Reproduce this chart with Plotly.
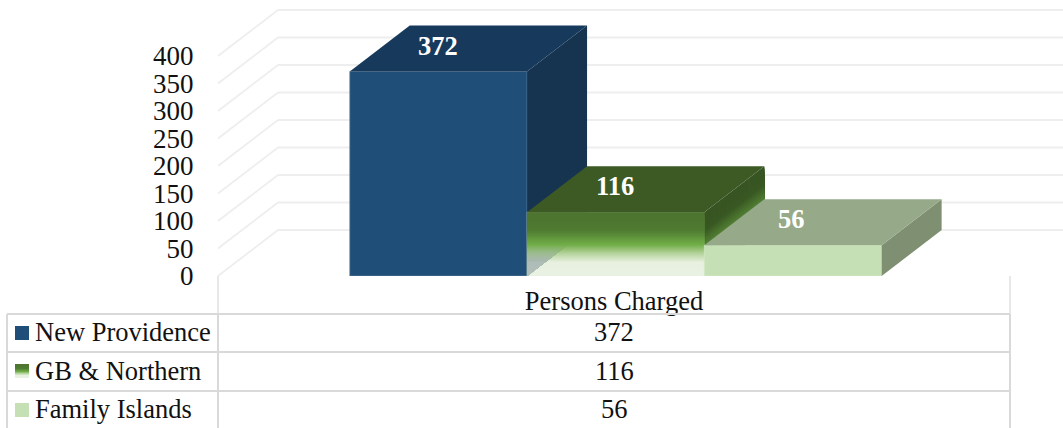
import plotly.graph_objects as go

# ---- data ----
category = "Persons Charged"
series_names = ["New Providence", "GB & Northern", "Family Islands"]
series_values = [372, 116, 56]
y_ticks = [0, 50, 100, 150, 200, 250, 300, 350, 400]

# ---- styles and layout ----
W, H = 1063, 428
FONT = "Liberation Serif"
FS = 26.5
PX_L, PX_R = 218, 1010      # category slot in pixels
PX_Y0 = 276                 # pixel of value 0
PX_PER_UNIT = 0.55
DEPTH_PX_X, DEPTH_PX_Y = 60, 46
SLOT = PX_R - PX_L
x_max = (W - PX_L) / SLOT - 0.5
y_max = PX_Y0 / PX_PER_UNIT
dx = DEPTH_PX_X / SLOT
dv = DEPTH_PX_Y / PX_PER_UNIT
bar_w = 177.3 / SLOT
BAR_SHIFT = 1.7 / SLOT
LABEL_SHIFT = -1.2 / SLOT
GRID = "#eeeeee"
RULE = "#d9d9d9"

front = ["#1f4e79", None, "#c5e0b4"]
top = ["#173a5c", "#3d5a25", "#96aa8a"]
side = ["#16344f", None, "#7f8f72"]
edge = ["#6f8ba6", "#9fb58f", "#d5e8c8"]
green_stops = [(0.0, (78, 118, 48)), (0.12, (78, 118, 48)), (0.28, (80, 124, 50)),
               (0.5, (112, 173, 71)), (0.64, (181, 211, 156)), (0.78, (232, 240, 224)),
               (1.0, (233, 241, 227))]


def mix(f):
    for (a, ca), (b, cb) in zip(green_stops, green_stops[1:]):
        if f <= b:
            t = (f - a) / (b - a)
            return tuple(ca[i] + (cb[i] - ca[i]) * t for i in range(3))
    return green_stops[-1][1]


def rgb(c, k=1.0):
    return "rgb(%d,%d,%d)" % tuple(round(v * k) for v in c)


def px(x):
    return x / W


def py(y):
    return 1 - y / H


def poly(xs, ys, color, ax):
    return go.Scatter(x=xs + xs[:1], y=ys + ys[:1], mode="lines", fill="toself", fillcolor=color,
                      line=dict(width=0, color=color), xaxis=ax[0], yaxis=ax[1],
                      hoverinfo="skip", showlegend=False)


fig = go.Figure()
AXES = [("x", "y"), ("x2", "y2"), ("x3", "y3")]
lefts = [BAR_SHIFT - 1.5 * bar_w + i * bar_w for i in range(3)]

for i, (name, v) in enumerate(zip(series_names, series_values)):
    ax = AXES[i]
    l, r = lefts[i], lefts[i] + bar_w
    fig.add_trace(go.Bar(x=[0], y=[v], name=name, width=bar_w, offset=l, xaxis=ax[0], yaxis=ax[1],
                         marker=dict(color=front[i] or rgb(green_stops[0][1]),
                                     line=dict(color=edge[i], width=0.7)),
                         showlegend=False, hoverinfo="name+y"))
    # right side face
    if i == 1:
        n = 64
        for k in range(n):
            f = k / n
            h = v * (1 - f)
            fig.add_trace(poly([r, r + dx, r + dx, r], [h, h + dv, dv, 0], rgb(mix(f), 0.72), ax))
    else:
        fig.add_trace(poly([r, r + dx, r + dx, r], [v, v + dv, dv, 0], side[i], ax))
    # top face
    fig.add_trace(poly([l, l + dx, r + dx, r], [v, v + dv, v + dv, v], top[i], ax))
    # gradient front face of the middle bar, plus the blue side seen through it
    if i == 1:
        n = 64
        for k in range(n):
            f = k / n
            h = v * (1 - f)
            fig.add_trace(poly([l, r, r, l], [h, h, 0, 0], rgb(mix(f)), ax))
        blue = (22, 52, 79)
        for k in range(n // 2, n):
            f = k / n
            h = v * (1 - f)
            a = min(0.27, max(0.0, (f - 0.5) / 0.25 * 0.27))
            c = tuple(mix(f)[j] * (1 - a) + blue[j] * a for j in range(3))
            fig.add_trace(poly([l, l + dx * h / dv, l], [h, h, 0], rgb(c), ax))

# ---- back grid, table rules and legend keys ----
shapes = []
for t in y_ticks:
    shapes.append(dict(type="line", layer="below", xref="x", yref="y", x0=-0.5, y0=t, x1=-0.5 + dx, y1=t + dv,
                       line=dict(color=GRID, width=1.8)))
    shapes.append(dict(type="line", layer="below", xref="x", yref="y", x0=-0.5 + dx, y0=t + dv, x1=x_max, y1=t + dv,
                       line=dict(color=GRID, width=1.8)))


def rule(x0, y0, x1, y1, width=2):
    shapes.append(dict(type="line", xref="paper", yref="paper", x0=px(x0), y0=py(y0), x1=px(x1), y1=py(y1),
                       line=dict(color=RULE, width=width)))


ROWS = [314, 352, 391, 428]
rule(PX_L, PX_Y0, PX_L, ROWS[0], 1.2)
rule(PX_R, PX_Y0, PX_R, ROWS[0], 1.2)
for yy in ROWS[:3]:
    rule(7, yy, PX_R, yy)
rule(7, ROWS[0], 7, H)
rule(PX_L, ROWS[0], PX_L, H)
rule(PX_R, ROWS[0], PX_R, H)

KEY_L, KEY_R = 15, 29
KEY_Y = [326, 364, 403]
for i in (0, 2):
    shapes.append(dict(type="rect", xref="paper", yref="paper", x0=px(KEY_L), x1=px(KEY_R),
                       y0=py(KEY_Y[i]), y1=py(KEY_Y[i] + 14), line=dict(width=0), fillcolor=front[i]))
for k in range(14):
    shapes.append(dict(type="rect", xref="paper", yref="paper", x0=px(KEY_L), x1=px(KEY_R),
                       y0=py(KEY_Y[1] + k), y1=py(KEY_Y[1] + 14), line=dict(width=0),
                       fillcolor=rgb(mix(k / 14))))

# ---- text ----
ann = []
for i, (name, v) in enumerate(zip(series_names, series_values)):
    ann.append(dict(x=lefts[i] + bar_w / 2 + (LABEL_SHIFT if i else 0), y=v + dv / 2 + 5, xref="x", yref="y",
                    text="<b>%d</b>" % v, showarrow=False, font=dict(family=FONT, size=FS, color="white")))
    row_mid = (ROWS[i] + ROWS[i + 1]) / 2 - 1
    ann.append(dict(x=px(33), y=py(row_mid), xref="paper", yref="paper", xanchor="left", yanchor="middle",
                    text=name, showarrow=False, font=dict(family=FONT, size=FS, color="#111111")))
    ann.append(dict(x=0, y=py(row_mid), xref="x", yref="paper", yanchor="middle",
                    text=str(v), showarrow=False, font=dict(family=FONT, size=FS, color="#111111")))

domain_x = [PX_L / W, 1]
domain_y = [1 - PX_Y0 / H, 1]
hidden_x = dict(domain=domain_x, range=[-0.5, x_max], visible=False, overlaying="x", fixedrange=True)
hidden_y = dict(domain=domain_y, range=[0, y_max], visible=False, overlaying="y", fixedrange=True)

fig.update_layout(
    width=W, height=H, margin=dict(l=0, r=0, t=0, b=0, pad=0, autoexpand=False), autosize=False,
    paper_bgcolor="white", plot_bgcolor="rgba(0,0,0,0)", showlegend=False,
    shapes=shapes, annotations=ann,
    font=dict(family=FONT, size=FS, color="#111111"),
    xaxis=dict(domain=domain_x, range=[-0.5, x_max], tickvals=[0], ticktext=[category],
               ticks="outside", ticklen=1, tickcolor="rgba(0,0,0,0)", showgrid=False, zeroline=False,
               showline=False, fixedrange=True, tickfont=dict(family=FONT, size=FS, color="#111111")),
    yaxis=dict(domain=domain_y, range=[0, y_max], tickvals=y_ticks,
               ticks="outside", ticklen=18, tickcolor="rgba(0,0,0,0)", showgrid=False, zeroline=False,
               showline=False, fixedrange=True, tickfont=dict(family=FONT, size=27, color="#111111")),
    xaxis2=hidden_x, yaxis2=hidden_y, xaxis3=hidden_x, yaxis3=hidden_y,
)

fig.write_html("out.html", config=dict(displayModeBar=False, responsive=False),
               post_script="document.body.style.margin='0';document.documentElement.style.overflow='hidden';")
